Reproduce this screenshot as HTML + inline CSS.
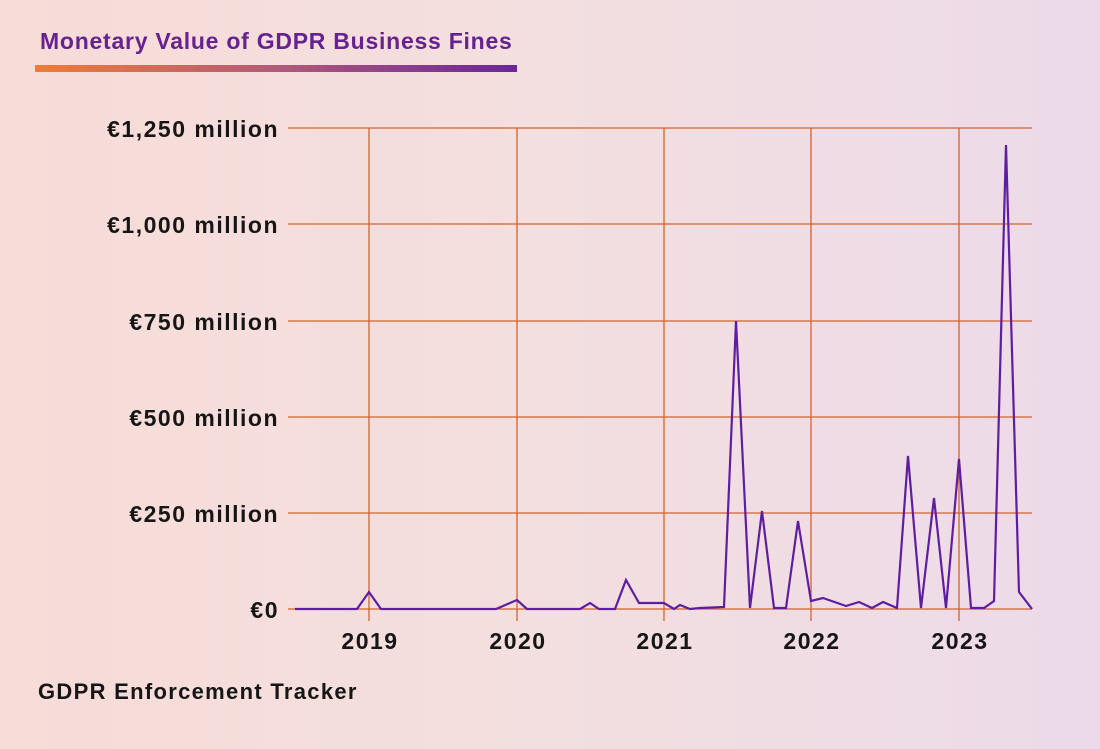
<!DOCTYPE html>
<html><head><meta charset="utf-8"><style>
html,body{margin:0;padding:0}
body{width:1100px;height:749px;overflow:hidden;background:linear-gradient(90deg,#f7dcd8 0%,#f3dfdf 50%,#ecdaea 100%);font-family:"Liberation Sans",sans-serif;position:relative}
.t{position:absolute;left:40px;top:28px;font-size:23px;color:#66228f;font-weight:bold;letter-spacing:0.75px}
.bar{position:absolute;left:35px;top:65px;width:482px;height:7px;background:linear-gradient(90deg,#f07c35,#b25a7a 50%,#6a259a)}
.f{position:absolute;left:38px;top:679px;font-size:22px;font-weight:bold;color:#161616;letter-spacing:1.3px}
</style></head><body>
<div class="t">Monetary Value of GDPR Business Fines</div>
<div class="bar"></div>
<svg width="1100" height="749" style="position:absolute;left:0;top:0">
<g stroke="#d0652c" stroke-width="1.3">
<line x1="288" y1="128" x2="1032" y2="128"/>
<line x1="288" y1="224" x2="1032" y2="224"/>
<line x1="288" y1="321" x2="1032" y2="321"/>
<line x1="288" y1="417" x2="1032" y2="417"/>
<line x1="288" y1="513" x2="1032" y2="513"/>
<line x1="288" y1="609" x2="1032" y2="609"/>
<line x1="369" y1="128" x2="369" y2="621"/>
<line x1="517" y1="128" x2="517" y2="621"/>
<line x1="664" y1="128" x2="664" y2="621"/>
<line x1="811" y1="128" x2="811" y2="621"/>
<line x1="959" y1="128" x2="959" y2="621"/>
</g>
<g font-family="Liberation Sans, sans-serif" font-weight="bold" font-size="23" fill="#161616" text-anchor="end" letter-spacing="1.5">
<text x="279" y="137">€1,250 million</text>
<text x="279" y="233">€1,000 million</text>
<text x="279" y="330">€750 million</text>
<text x="279" y="426">€500 million</text>
<text x="279" y="522">€250 million</text>
<text x="279" y="618">€0</text>
</g>
<g font-family="Liberation Sans, sans-serif" font-weight="bold" font-size="23" fill="#161616" text-anchor="middle" letter-spacing="1.5">
<text x="370" y="649">2019</text>
<text x="518" y="649">2020</text>
<text x="665" y="649">2021</text>
<text x="812" y="649">2022</text>
<text x="960" y="649">2023</text>
</g>
<polyline fill="none" stroke="#5e1ea0" stroke-width="2.2" stroke-linejoin="miter" points="295,609 357,609 369,592 381,609 496,609 517,600 527,609 580,609 590,603 599,609 615,609 626,580 639,603 664,603 674,609 680,605 690,609 700,608 724,607 736,321 750,608 762,511 774,608 786,608 798,521 811,601 823,598 846,606 859,602 872,608 883,602 897,608 908,456 921,608 934,498 946,608 959,459 971,608 984,608 994,601 1006,145 1019,592 1032,609"/>
</svg>
<div class="f">GDPR Enforcement Tracker</div>
</body></html>
